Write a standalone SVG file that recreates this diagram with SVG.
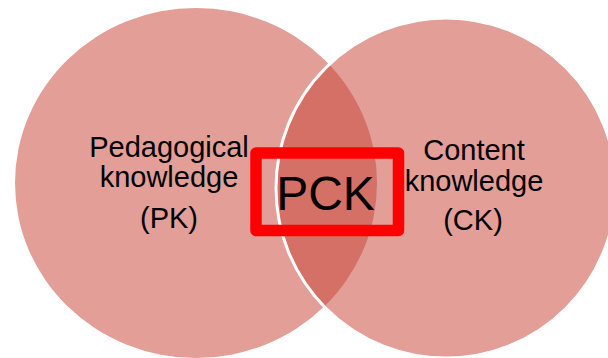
<svg xmlns="http://www.w3.org/2000/svg" width="608" height="358" viewBox="0 0 608 358">
  <style>
    .lbl { font-family: "Liberation Sans", Arial, sans-serif; font-size: 29px; fill: #000; text-anchor: middle; }
    .big { font-family: "Liberation Sans", Arial, sans-serif; font-size: 48px; fill: #000; text-anchor: middle; }
    .set { fill: #E39E98; }
  </style>
  <defs>
    <clipPath id="ckClip">
      <circle cx="446" cy="188" r="170"/>
    </clipPath>
  </defs>
  <rect width="608" height="358" fill="#FFFFFF"/>
  <g id="node-pk">
    <ellipse class="set" cx="196" cy="183" rx="181" ry="175"/>
  </g>
  <g id="node-ck">
    <circle class="set" cx="446" cy="188" r="170"/>
  </g>
  <g id="node-pck">
    <ellipse cx="196" cy="183" rx="181" ry="175" fill="#D47066" clip-path="url(#ckClip)"/>
  </g>
  <circle cx="446" cy="188" r="170" fill="none" stroke="#FFFFFF" stroke-width="3"/>
  <g id="label-pk">
    <text class="lbl" x="169" y="157">Pedagogical</text>
    <text class="lbl" x="169" y="187">knowledge</text>
    <text class="lbl" x="169" y="228">(PK)</text>
  </g>
  <g id="label-ck">
    <text class="lbl" x="474" y="160">Content</text>
    <text class="lbl" x="474" y="191">knowledge</text>
    <text class="lbl" x="473" y="230">(CK)</text>
  </g>
  <g id="label-pck">
    <rect x="256" y="153" width="142.5" height="77.5" fill="none" stroke="#FF0000" stroke-width="11.5" stroke-linejoin="round"/>
    <text class="big" x="325.5" y="210">PCK</text>
  </g>
</svg>
